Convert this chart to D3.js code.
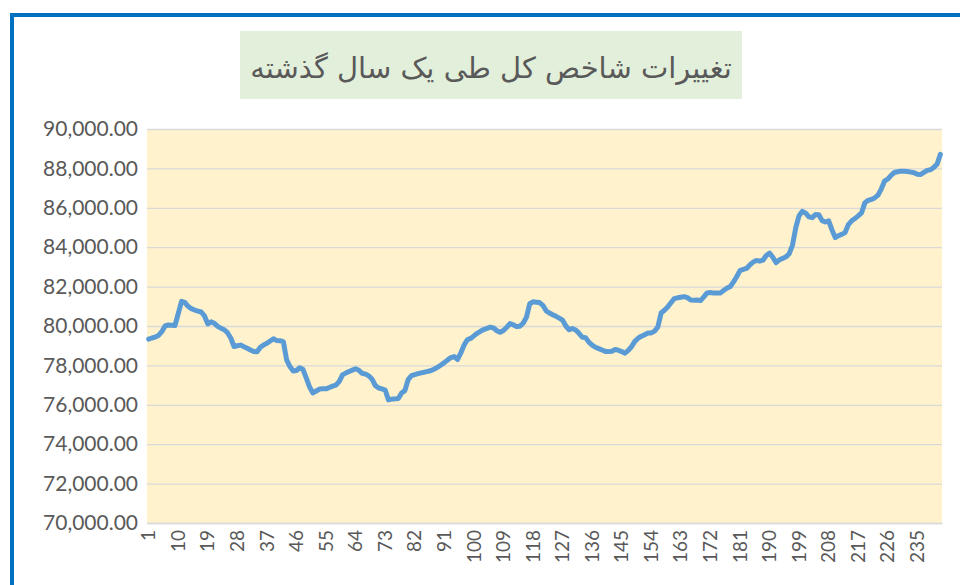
<!DOCTYPE html>
<html>
<head>
<meta charset="utf-8">
<script src="https://cdn.jsdelivr.net/npm/d3@7"></script>
<style>
  body { margin: 0; background: #fff; }
  svg { display: block; }
</style>
</head>
<body>
<div id="chart"></div>
<script>
var title = "تغییرات شاخص کل طی یک سال گذشته";

// index value, one entry per day (1..242)
var values = [
  79330, 79390, 79440, 79520, 79710, 80000, 80050, 80040, 80020, 80620,
  81250, 81200, 81000, 80880, 80810, 80760, 80710, 80510, 80110, 80210,
  80140, 79980, 79890, 79810, 79660, 79390, 78960, 79000, 79030, 78950,
  78870, 78780, 78700, 78690, 78920, 79040, 79120, 79240, 79350, 79260,
  79250, 79210, 78280, 77940, 77720, 77740, 77880, 77790, 77350, 76900,
  76600, 76700, 76800, 76810, 76810, 76880, 76950, 77000, 77180, 77520,
  77610, 77690, 77760, 77830, 77750, 77600, 77560, 77470, 77300, 76980,
  76850, 76810, 76750, 76250, 76290, 76300, 76320, 76600, 76720, 77280,
  77480, 77530, 77580, 77620, 77660, 77700, 77740, 77820, 77910, 78020,
  78140, 78270, 78400, 78450, 78300, 78620, 79020, 79300, 79370, 79500,
  79630, 79730, 79820, 79880, 79940, 79900, 79760, 79680, 79770, 79940,
  80120, 80060, 79970, 79990, 80140, 80440, 81130, 81230, 81210, 81190,
  81050, 80770, 80660, 80570, 80490, 80400, 80300, 80000, 79810, 79870,
  79800, 79630, 79430, 79410, 79180, 79030, 78920, 78850, 78780, 78710,
  78700, 78720, 78810, 78770, 78700, 78620, 78760, 78950, 79220, 79380,
  79480, 79560, 79640, 79650, 79740, 79950, 80660, 80800, 80970, 81180,
  81390, 81430, 81460, 81490, 81440, 81320, 81310, 81320, 81290, 81480,
  81680, 81700, 81670, 81670, 81670, 81800, 81920, 81990, 82230, 82500,
  82810, 82870, 82920, 83100, 83240, 83330, 83290, 83340, 83580, 83700,
  83490, 83220, 83360, 83430, 83510, 83670, 84110, 85000, 85600, 85820,
  85730, 85540, 85500, 85660, 85650, 85350, 85280, 85340, 84880, 84490,
  84590, 84650, 84740, 85150, 85340, 85460, 85590, 85740, 86250, 86380,
  86420, 86500, 86640, 86950, 87350, 87460, 87650, 87790, 87830, 87860,
  87850, 87840, 87810, 87780, 87700, 87690, 87800, 87900, 87930, 88050,
  88210, 88710
];
var days = values.map(function(d, i) { return i + 1; });
var yTicks = [70000, 72000, 74000, 76000, 78000, 80000, 82000, 84000, 86000, 88000, 90000];
var xTicks = days.filter(function(d) { return (d - 1) % 9 === 0; });

var w = 960, h = 585;
var plot = {left: 147, right: 942, top: 129, bottom: 523};

var svg = d3.select("#chart").append("svg")
    .attr("width", w)
    .attr("height", h);

svg.append("rect")
    .attr("width", w).attr("height", h)
    .attr("fill", "#fff");

// blue frame
svg.append("rect")
    .attr("x", 12).attr("y", 15)
    .attr("width", 980).attr("height", 620)
    .attr("fill", "none")
    .attr("stroke", "#0070c0")
    .attr("stroke-width", 4);

// title box
svg.append("rect")
    .attr("x", 240).attr("y", 31)
    .attr("width", 502).attr("height", 68)
    .attr("fill", "#e2efda");

svg.append("text")
    .attr("x", 491).attr("y", 78)
    .attr("text-anchor", "middle")
    .attr("direction", "rtl")
    .attr("font-family", "DejaVu Sans")
    .attr("font-size", 29)
    .attr("fill", "#595959")
    .text(title);

var x = d3.scaleBand()
    .domain(days)
    .range([plot.left, plot.right]);

var y = d3.scaleLinear()
    .domain([70000, 90000])
    .range([plot.bottom, plot.top]);

svg.append("rect")
    .attr("x", plot.left).attr("y", plot.top)
    .attr("width", plot.right - plot.left)
    .attr("height", plot.bottom - plot.top)
    .attr("fill", "#fff2cc");

// gridlines
var grid = svg.append("g")
    .attr("transform", "translate(" + plot.left + ",0)")
    .call(d3.axisLeft(y).tickValues(yTicks).tickSize(-(plot.right - plot.left)).tickFormat(""));
grid.select(".domain").remove();
grid.selectAll("line").attr("stroke", "#d9d9d9").attr("stroke-width", 1.3);

// y labels
var yAxis = svg.append("g")
    .attr("transform", "translate(138,0)")
    .call(d3.axisLeft(y).tickValues(yTicks).tickSize(0).tickPadding(0).tickFormat(d3.format(",.2f")));
yAxis.select(".domain").remove();
yAxis.selectAll("text")
    .attr("font-family", "Lato")
    .attr("font-size", 21)
    .attr("fill", "#595959");

// x axis
var xAxis = svg.append("g")
    .attr("transform", "translate(0," + plot.bottom + ")")
    .call(d3.axisBottom(x).tickValues(xTicks).tickSize(0).tickPadding(0));
xAxis.select(".domain").attr("stroke", "#d9d9d9").attr("stroke-width", 1.3);
xAxis.selectAll("text")
    .attr("font-family", "Lato")
    .attr("font-size", 19)
    .attr("fill", "#595959")
    .attr("text-anchor", "end")
    .attr("dy", "0.35em")
    .attr("transform", "translate(0,7) rotate(-90)")
    .attr("x", 0).attr("y", 0);

var line = d3.line()
    .x(function(d, i) { return x(days[i]) + x.bandwidth() / 2; })
    .y(function(d) { return y(d); });

svg.append("path")
    .datum(values)
    .attr("d", line)
    .attr("fill", "none")
    .attr("stroke", "#5b9bd5")
    .attr("stroke-width", 5)
    .attr("stroke-linejoin", "round")
    .attr("stroke-linecap", "round");
</script>
</body>
</html>
